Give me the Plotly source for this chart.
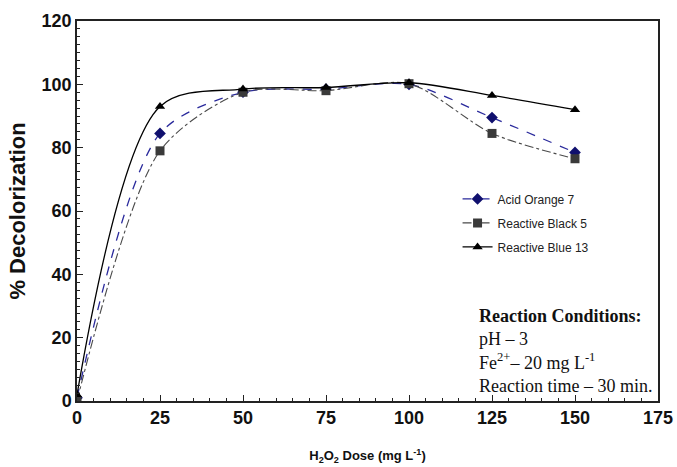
import plotly.graph_objects as go

# H2O2 dose (mg/L) and % decolorization for each dye
dose = [0, 25, 50, 75, 100, 125, 150]
acid_orange_7 = [1, 84.5, 97.5, 98.5, 100, 89.5, 78.5]
reactive_black_5 = [0, 79, 97.5, 98, 100.2, 84.5, 76.5]
reactive_blue_13 = [2, 93, 98.5, 99, 100.5, 96.5, 92]

x_ticks = [0, 25, 50, 75, 100, 125, 150, 175]
y_ticks = [0, 20, 40, 60, 80, 100, 120]

fig = go.Figure()

fig.add_trace(go.Scatter(
    x=dose, y=acid_orange_7, name="Acid Orange 7", legendgroup="ao7",
    mode="lines+markers", line=dict(shape="spline", smoothing=0.8, color="#2a2a9c", width=1.3, dash="dash"),
    marker=dict(symbol="diamond", size=9, color="#10106e"),
))
fig.add_trace(go.Scatter(
    x=dose, y=reactive_black_5, name="Reactive Black 5", legendgroup="rb5",
    mode="lines+markers", line=dict(shape="spline", smoothing=0.8, color="#4a4a4a", width=1.1, dash="dashdot"),
    marker=dict(symbol="square", size=9, color="#3a3a3a"),
))
fig.add_trace(go.Scatter(
    x=dose, y=reactive_blue_13, name="Reactive Blue 13", legendgroup="rb13",
    mode="lines+markers", line=dict(shape="spline", smoothing=0.9, color="#000000", width=1.3),
    marker=dict(symbol="triangle-up", size=9, color="#000000"),
))

fig.add_annotation(
    xref="paper", yref="paper", x=0.689, y=0.008, xanchor="left", yanchor="bottom",
    align="left", showarrow=False,
    text="<b>Reaction Conditions:</b><br>pH – 3<br>Fe<sup>2+</sup>– 20 mg L<sup>-1</sup><br>Reaction time – 30 min.",
    font=dict(family="Liberation Serif", size=18, color="#111"),
)

axis_common = dict(
    showline=True, linecolor="#222", linewidth=1.5, mirror=True, automargin=False,
    showgrid=False, zeroline=False, ticks="inside", ticklen=6, tickcolor="#222",
    tickfont=dict(family="Liberation Sans", size=18, color="#111", weight="bold"),
)

fig.update_layout(
    width=677, height=467,
    margin=dict(l=77, r=19, t=21, b=66),
    paper_bgcolor="white", plot_bgcolor="white",
    showlegend=True,
    legend=dict(x=0.655, y=0.57, xanchor="left", yanchor="top",
                font=dict(family="Liberation Sans", size=12, color="#222"),
                bgcolor="rgba(0,0,0,0)", traceorder="grouped", tracegroupgap=5, itemwidth=30),
    xaxis=dict(
        range=[0, 175], tickvals=x_ticks, **axis_common,
        minor=dict(dtick=5, ticks="inside", ticklen=3, tickcolor="#222"),
        title=dict(text="H<sub>2</sub>O<sub>2</sub> Dose (mg L<sup>-1</sup>)",
                   font=dict(family="Liberation Sans", size=13, color="#111", weight="bold"),
                   standoff=24),
    ),
    yaxis=dict(
        range=[0, 120], tickvals=y_ticks, **axis_common,
        minor=dict(dtick=2.5, ticks="inside", ticklen=3, tickcolor="#222"),
        title=dict(text="% Decolorization",
                   font=dict(family="Liberation Sans", size=22, color="#111", weight="bold"),
                   standoff=10),
    ),
)

fig.write_html("out.html")
